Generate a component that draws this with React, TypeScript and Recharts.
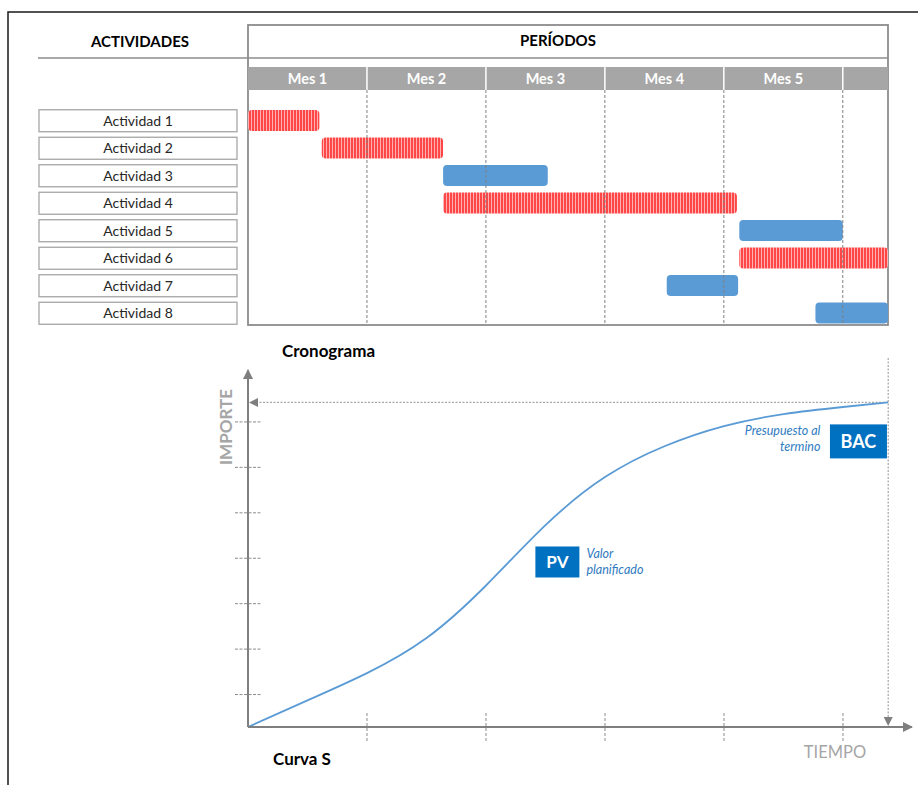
import React from "react";
import {
  BarChart,
  Bar,
  Cell,
  XAxis,
  YAxis,
  ReferenceLine,
  ReferenceDot,
  LineChart,
  Line,
} from "recharts";

const FONT = "Lato, 'Open Sans', sans-serif";
const GRAY = "#8c8c8c";
const AXIS_GRAY = "#7f7f7f";
const BLUE_BAR = "#5b9bd5";
const BOX_BLUE = "#0070c0";
const NOTE_BLUE = "#2f7bc0";

// ---- cronograma ----
const ACTIVITIES = [
  "Actividad 1",
  "Actividad 2",
  "Actividad 3",
  "Actividad 4",
  "Actividad 5",
  "Actividad 6",
  "Actividad 7",
  "Actividad 8",
];
const STARTS = [0, 0.62, 1.64, 1.64, 4.13, 4.13, 3.52, 4.77];
const ENDS = [0.6, 1.64, 2.52, 4.11, 5.0, 5.38, 4.12, 5.38];
const CRITICAL = [true, true, false, true, false, true, false, false];
const MONTHS = ["Mes 1", "Mes 2", "Mes 3", "Mes 4", "Mes 5"];
const MONTH_TICKS = [0, 1, 2, 3, 4, 5];
const GANTT_MAX = 5.38;

// ---- curva S ----
const TIME = [0, 0.5, 1, 1.5, 2, 2.5, 3, 3.5, 4, 4.5, 5, 5.38];
const PV = [0, 8.2, 16.6, 27.4, 43.6, 62.2, 77, 86.5, 92.7, 96.4, 98.6, 100];
const BAC = 100;
const BAC_T = 5.38;
const AMOUNT_TICKS = [10, 24, 38, 52, 66, 80, 94];
const TIME_TICKS = [1, 2, 3, 4, 5];
const CURVE_MAX_T = 5.58;
const CURVE_MAX_V = 110;
const PV_NOTE = { t: 2.6, v: 51 };
const BAC_NOTE = { t: 5.13, v: 88 };

const ganttData = ACTIVITIES.map((name, i) => ({
  name,
  range: [STARTS[i], ENDS[i]],
  critical: CRITICAL[i],
}));

const curveData = TIME.map((t, i) => ({ t, pv: PV[i] }));

// plot edges of the gantt (page px)
const G_LEFT = 248;
const G_RIGHT = 888;
const MONTH_PX = (G_RIGHT - G_LEFT) / GANTT_MAX;

const MonthTick = ({ x, y, payload }: any) => {
  const m = payload.value;
  const w = Math.min(MONTH_PX, G_RIGHT - x);
  return (
    <g>
      <rect x={x} y={y - 23} width={w} height={23} fill="#a6a6a6" />
      {m > 0 && (
        <line x1={x} x2={x} y1={y - 23} y2={y} stroke="#fff" strokeWidth={1.5} />
      )}
      {m < MONTHS.length && (
        <text
          x={x + w / 2}
          y={y - 6.5}
          textAnchor="middle"
          fill="#fff"
          fontWeight={700}
          fontSize={14.5}
        >
          {MONTHS[m]}
        </text>
      )}
    </g>
  );
};

const ActivityTick = ({ x, y, payload }: any) => (
  <g>
    <rect
      x={x - 209}
      y={y - 11}
      width={198}
      height={22}
      fill="#fff"
      stroke="#a6a6a6"
      strokeWidth={1.3}
    />
    <text x={x - 110} y={y + 5} textAnchor="middle" fontSize={14} fill="#262626">
      {payload.value}
    </text>
  </g>
);

const TimeTick = ({ x, y }: any) => (
  <line x1={x} x2={x} y1={y - 14} y2={y + 14} stroke={GRAY} strokeDasharray="3 2" />
);

const AmountTick = ({ x, y }: any) => (
  <line x1={x - 13} x2={x + 14} y1={y} y2={y} stroke={GRAY} strokeDasharray="3 1.5" />
);

const BacLine = (p: any) => {
  const xa = Math.min(p.x1, p.x2);
  const xb = Math.max(p.x1, p.x2);
  const y = p.y1;
  return (
    <g>
      <line x1={xa + 8} x2={xb} y1={y} y2={y} stroke="#a6a6a6" strokeDasharray="2 1.5" strokeWidth={1.2} />
      <path d={`M${xa + 1},${y} l9,-4.5 l0,9 z`} fill={AXIS_GRAY} />
    </g>
  );
};

const EndLine = (p: any) => {
  const x = p.x1;
  const top = Math.min(p.y1, p.y2);
  const bottom = Math.max(p.y1, p.y2);
  return (
    <g>
      <line x1={x} x2={x} y1={top - 12} y2={bottom - 9} stroke="#a6a6a6" strokeDasharray="2 1.5" strokeWidth={1.2} />
      <path d={`M${x},${bottom - 1} l-4.5,-9 l9,0 z`} fill={AXIS_GRAY} />
    </g>
  );
};

const PvMark = ({ cx, cy }: any) => (
  <g>
    <rect x={cx - 22} y={cy - 15} width={44} height={31} fill={BOX_BLUE} />
    <text x={cx} y={cy + 6.5} textAnchor="middle" fill="#fff" fontWeight={700} fontSize={17}>
      PV
    </text>
    <text x={cx + 29} y={cy - 3} fontStyle="italic" fontSize={12.5} fill={NOTE_BLUE}>
      Valor
    </text>
    <text x={cx + 29} y={cy + 13} fontStyle="italic" fontSize={12.5} fill={NOTE_BLUE}>
      planificado
    </text>
  </g>
);

const BacMark = ({ cx, cy }: any) => (
  <g>
    <rect x={cx - 28.5} y={cy - 17} width={57} height={34} fill={BOX_BLUE} />
    <text x={cx} y={cy + 6.5} textAnchor="middle" fill="#fff" fontWeight={700} fontSize={18}>
      BAC
    </text>
    <text x={cx - 38} y={cy - 6} textAnchor="end" fontStyle="italic" fontSize={12.5} fill={NOTE_BLUE}>
      Presupuesto al
    </text>
    <text x={cx - 38} y={cy + 10} textAnchor="end" fontStyle="italic" fontSize={12.5} fill={NOTE_BLUE}>
      termino
    </text>
  </g>
);

function Frame() {
  return (
    <svg width={918} height={785} style={{ position: "absolute", left: 0, top: 0 }}>
      <path d="M8,785 L8,12 L918,12" fill="none" stroke="#1a1a1a" strokeWidth={1.5} />
      <text x={140} y={47} textAnchor="middle" fontWeight={700} fontSize={15} fill="#000">
        ACTIVIDADES
      </text>
      <text x={558} y={46} textAnchor="middle" fontWeight={700} fontSize={15} fill="#000">
        PERÍODOS
      </text>
      <line x1={38} x2={888} y1={58} y2={58} stroke={GRAY} strokeWidth={1.5} />
      <rect x={248} y={25} width={640} height={300} fill="none" stroke={GRAY} strokeWidth={1.8} />
      <text x={282} y={357} fontWeight={700} fontSize={17} fill="#000">
        Cronograma
      </text>
      <text
        x={0}
        y={0}
        transform="translate(232,427) rotate(-90)"
        textAnchor="middle"
        fontWeight={700}
        fontSize={17}
        fill="#a6a6a6"
      >
        IMPORTE
      </text>
      <text x={835} y={758} textAnchor="middle" fontSize={16.5} fill="#a6a6a6">
        TIEMPO
      </text>
      <text x={273} y={765} fontWeight={700} fontSize={17} fill="#000">
        Curva S
      </text>
    </svg>
  );
}

function Cronograma() {
  return (
    <div style={{ position: "absolute", left: 0, top: 0 }}>
      <BarChart
        width={918}
        height={340}
        data={ganttData}
        layout="vertical"
        margin={{ top: 67, right: 30, bottom: 15, left: 38 }}
        barSize={21}
      >
        <defs>
          <pattern id="hatch" width={3} height={4} patternUnits="userSpaceOnUse">
            <rect width={3} height={4} fill="#ffb0b0" />
            <rect width={2} height={4} fill="#ff4747" />
          </pattern>
        </defs>
        <XAxis
          type="number"
          orientation="top"
          domain={[0, GANTT_MAX]}
          ticks={MONTH_TICKS}
          interval={0}
          height={23}
          tickSize={0}
          tickMargin={0}
          axisLine={false}
          tick={(p: any) => <MonthTick {...p} />}
          allowDataOverflow
        />
        <YAxis
          type="category"
          dataKey="name"
          width={210}
          tickSize={0}
          tickMargin={0}
          axisLine={false}
          interval={0}
          padding={{ top: 17, bottom: -2 }}
          tick={(p: any) => <ActivityTick {...p} />}
        />
        {MONTH_TICKS.slice(1).map((m) => (
          <ReferenceLine key={m} x={m} stroke={AXIS_GRAY} strokeDasharray="3 2" />
        ))}
        <Bar dataKey="range" isAnimationActive={false} radius={4}>
          {ganttData.map((d, i) => (
            <Cell key={`cell-${i}`} fill={d.critical ? "url(#hatch)" : BLUE_BAR} />
          ))}
        </Bar>
      </BarChart>
    </div>
  );
}

function CurvaS() {
  return (
    <div style={{ position: "absolute", left: 0, top: 340 }}>
      <LineChart
        width={918}
        height={445}
        data={curveData}
        margin={{ top: 30, right: 6, bottom: 28, left: 247 }}
      >
        <defs>
          <marker
            id="arrowHead"
            viewBox="0 0 10 10"
            refX={9}
            refY={5}
            markerWidth={5}
            markerHeight={5}
            orient="auto-start-reverse"
          >
            <path d="M0,0 L10,5 L0,10 z" fill={AXIS_GRAY} />
          </marker>
        </defs>
        <XAxis
          type="number"
          dataKey="t"
          domain={[0, CURVE_MAX_T]}
          ticks={TIME_TICKS}
          interval={0}
          height={30}
          tickSize={0}
          tickMargin={0}
          tick={(p: any) => <TimeTick {...p} />}
          axisLine={{ stroke: AXIS_GRAY, strokeWidth: 2, markerEnd: "url(#arrowHead)" }}
          allowDataOverflow
        />
        <YAxis
          type="number"
          domain={[0, CURVE_MAX_V]}
          ticks={AMOUNT_TICKS}
          interval={0}
          width={1}
          tickSize={0}
          tickMargin={0}
          tick={(p: any) => <AmountTick {...p} />}
          axisLine={{ stroke: AXIS_GRAY, strokeWidth: 2, markerStart: "url(#arrowHead)" }}
          allowDataOverflow
        />
        <ReferenceLine
          segment={[
            { x: 0, y: BAC },
            { x: BAC_T, y: BAC },
          ]}
          shape={(p: any) => <BacLine {...p} />}
        />
        <ReferenceLine x={BAC_T} shape={(p: any) => <EndLine {...p} />} />
        <Line
          type="natural"
          dataKey="pv"
          stroke={BLUE_BAR}
          strokeWidth={1.8}
          dot={false}
          isAnimationActive={false}
        />
        <ReferenceDot x={PV_NOTE.t} y={PV_NOTE.v} shape={(p: any) => <PvMark {...p} />} />
        <ReferenceDot x={BAC_NOTE.t} y={BAC_NOTE.v} shape={(p: any) => <BacMark {...p} />} />
      </LineChart>
    </div>
  );
}

export default function App() {
  return (
    <div
      style={{
        position: "absolute",
        left: 0,
        top: 0,
        width: 918,
        height: 785,
        background: "#fff",
        fontFamily: FONT,
      }}
    >
      <Frame />
      <Cronograma />
      <CurvaS />
    </div>
  );
}
